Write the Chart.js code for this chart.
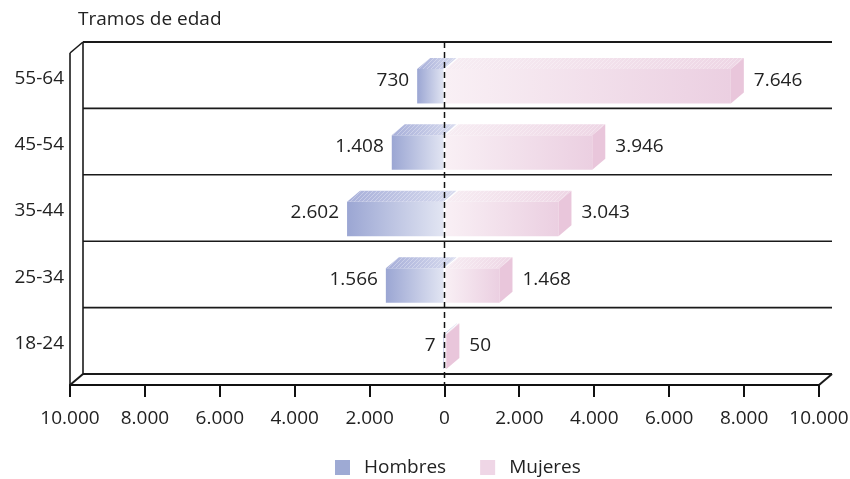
<!DOCTYPE html>
<html>
<head>
<meta charset="utf-8">
<script src="https://cdn.jsdelivr.net/npm/chart.js@4"></script>
<style>
  html, body { margin: 0; padding: 0; background: #fff; }
  #wrap { width: 850px; height: 479px; }
</style>
</head>
<body>
<div id="wrap"><canvas id="chart" width="850" height="479"></canvas></div>
<script>
/* age brackets, top to bottom */
const categories = ['55-64', '45-54', '35-44', '25-34', '18-24'];
const hombres = [730, 1408, 2602, 1566, 7];
const mujeres = [7646, 3946, 3043, 1468, 50];
const seriesNames = ['Hombres', 'Mujeres'];
const axisTitle = 'Tramos de edad';

const FONT = "'Open Sans', sans-serif";
const FSIZE = 19;
const TEXT = '#222';
const DX = 13, DY = 11;   /* depth of the fake 3D */

/* 7646 -> "7.646" */
function fmt(v) {
  return String(Math.abs(v)).replace(/\B(?=(\d{3})+(?!\d))/g, '.');
}

let hatch = null;
function getHatch(ctx) {
  if (hatch) return hatch;
  const c = document.createElement('canvas');
  c.width = 4; c.height = 4;
  const g = c.getContext('2d');
  g.strokeStyle = 'rgba(255,255,255,0.3)';
  g.lineWidth = 1;
  g.beginPath();
  g.moveTo(0, 4); g.lineTo(4, 0);
  g.moveTo(-1, 1); g.lineTo(1, -1);
  g.moveTo(3, 5); g.lineTo(5, 3);
  g.stroke();
  hatch = ctx.createPattern(c, 'repeat');
  return hatch;
}

function line(ctx, x1, y1, x2, y2) {
  ctx.beginPath();
  ctx.moveTo(x1, y1);
  ctx.lineTo(x2, y2);
  ctx.stroke();
}

function poly(ctx, pts, fill) {
  ctx.beginPath();
  ctx.moveTo(pts[0][0], pts[0][1]);
  for (let i = 1; i < pts.length; i++) ctx.lineTo(pts[i][0], pts[i][1]);
  ctx.closePath();
  ctx.fillStyle = fill;
  ctx.fill();
}

/* front-face gradient for each bar */
function barFill(colors) {
  return c => {
    const chart = c.chart;
    if (c.type !== 'data' || !chart.chartArea) return colors[1];
    const xs = chart.scales.x;
    const x0 = xs.getPixelForValue(0);
    const x1 = xs.getPixelForValue(c.raw);
    const g = chart.ctx.createLinearGradient(Math.min(x0, x1), 0, Math.max(x0, x1) + 0.01, 0);
    g.addColorStop(0, colors[0]);
    g.addColorStop(1, colors[1]);
    return g;
  };
}

/* ── back wall, floor, left wall, labels, legend ──────────── */
const boxPlugin = {
  id: 'box3d',
  beforeDatasetsDraw(chart) {
    const { ctx, chartArea: a } = chart;
    const n = categories.length;
    const rowH = (a.bottom - a.top) / n;
    ctx.save();
    ctx.strokeStyle = '#1a1a1a';
    for (let i = 0; i <= n; i++) {
      const y = a.top + i * rowH - DY;
      ctx.lineWidth = (i === 0 || i === n) ? 2 : 1.6;
      line(ctx, a.left + DX, y, a.right + DX, y);
    }
    ctx.lineWidth = 1.6;
    line(ctx, a.left + DX, a.top - DY, a.left + DX, a.bottom - DY);
    line(ctx, a.left, a.top, a.left, a.bottom);
    line(ctx, a.left, a.top, a.left + DX, a.top - DY);
    ctx.lineWidth = 2;
    line(ctx, a.left, a.bottom, a.left + DX, a.bottom - DY);
    line(ctx, a.right, a.bottom, a.right + DX, a.bottom - DY);
    ctx.restore();
  },
  afterDatasetsDraw(chart) {
    const { ctx, chartArea: a } = chart;
    const x0 = chart.scales.x.getPixelForValue(0);
    ctx.save();

    /* top and side faces */
    const tops = [['#a7afd9', '#d9dcef'], ['#f7edf3', '#eed6e5']];
    chart.data.datasets.forEach((ds, di) => {
      const meta = chart.getDatasetMeta(di);
      meta.data.forEach(bar => {
        const p = bar.getProps(['x', 'y', 'base', 'height'], true);
        const l = Math.min(p.x, p.base), r = Math.max(p.x, p.base);
        const t = p.y - p.height / 2, b = p.y + p.height / 2;
        const g = ctx.createLinearGradient(l, 0, r + DX + 0.01, 0);
        g.addColorStop(0, tops[di][0]);
        g.addColorStop(1, tops[di][1]);
        const topFace = [[l, t], [l + DX, t - DY], [r + DX, t - DY], [r, t]];
        poly(ctx, topFace, g);
        poly(ctx, topFace, getHatch(ctx));
        if (di === 1) {
          poly(ctx, [[r, t], [r + DX, t - DY], [r + DX, b - DY], [r, b]], '#e9c6db');
        }
      });
    });

    /* zero line */
    ctx.strokeStyle = '#111';
    ctx.lineWidth = 1.5;
    ctx.setLineDash([6, 4]);
    line(ctx, x0, a.top - DY, x0, a.bottom);
    ctx.setLineDash([]);

    /* value labels */
    ctx.font = FSIZE + 'px ' + FONT;
    ctx.fillStyle = TEXT;
    ctx.textBaseline = 'middle';
    chart.data.datasets.forEach((ds, di) => {
      const meta = chart.getDatasetMeta(di);
      meta.data.forEach((bar, i) => {
        const p = bar.getProps(['x', 'y', 'base', 'height'], true);
        const y = p.y - 6;
        if (di === 0) {
          ctx.textAlign = 'right';
          ctx.fillText(fmt(ds.data[i]), Math.min(p.x, p.base) - 8, y);
        } else {
          ctx.textAlign = 'left';
          ctx.fillText(fmt(ds.data[i]), Math.max(p.x, p.base) + DX + 10, y);
        }
      });
    });

    /* axis title */
    ctx.textAlign = 'left';
    ctx.fillText(axisTitle, 78, 20);

    /* legend */
    const colors = chart.data.datasets.map(ds => ds.legendColor);
    let lx = 335;
    const ly = 468;
    seriesNames.forEach((name, i) => {
      ctx.fillStyle = colors[i];
      ctx.fillRect(lx, ly - 8, 15, 15);
      ctx.fillStyle = TEXT;
      ctx.fillText(name, lx + 29, ly);
      lx += 29 + ctx.measureText(name).width + 34;
    });
    ctx.restore();
  }
};

const ctx = document.getElementById('chart').getContext('2d');
new Chart(ctx, {
  type: 'bar',
  data: {
    labels: categories,
    datasets: [
      {
        label: seriesNames[0],
        data: hombres.map(v => -v),
        backgroundColor: barFill(['#9ba6d3', '#e3e6f3']),
        legendColor: '#9eaad4',
      },
      {
        label: seriesNames[1],
        data: mujeres,
        backgroundColor: barFill(['#f9f0f5', '#ebcfe1']),
        legendColor: '#efd6e6',
      }
    ]
  },
  options: {
    indexAxis: 'y',
    responsive: false,
    animation: false,
    categoryPercentage: 0.52,
    barPercentage: 1,
    layout: { padding: { top: 53, right: 31, left: 0, bottom: 51 } },
    plugins: {
      legend: { display: false },
      tooltip: { enabled: false },
    },
    scales: {
      x: {
        stacked: true,
        min: -10000,
        max: 10000,
        afterFit: s => { s.height = 43; s.paddingLeft = 0; s.paddingRight = 0; },
        ticks: {
          stepSize: 2000,
          color: TEXT,
          font: { size: FSIZE, family: FONT },
          padding: 10,
          maxRotation: 0,
          callback: v => fmt(v),
        },
        grid: {
          drawOnChartArea: false,
          drawTicks: true,
          tickLength: 12,
          color: '#111',
          lineWidth: 2,
        },
        border: { display: true, color: '#111', width: 2 },
      },
      y: {
        stacked: true,
        afterFit: s => { s.width = 70; s.paddingTop = 0; s.paddingBottom = 0; },
        ticks: {
          color: TEXT,
          font: { size: FSIZE, family: FONT },
          padding: 6,
          labelOffset: -8,
        },
        grid: { display: false, drawTicks: false },
        border: { display: false },
      }
    }
  },
  plugins: [boxPlugin]
});
</script>
</body>
</html>
